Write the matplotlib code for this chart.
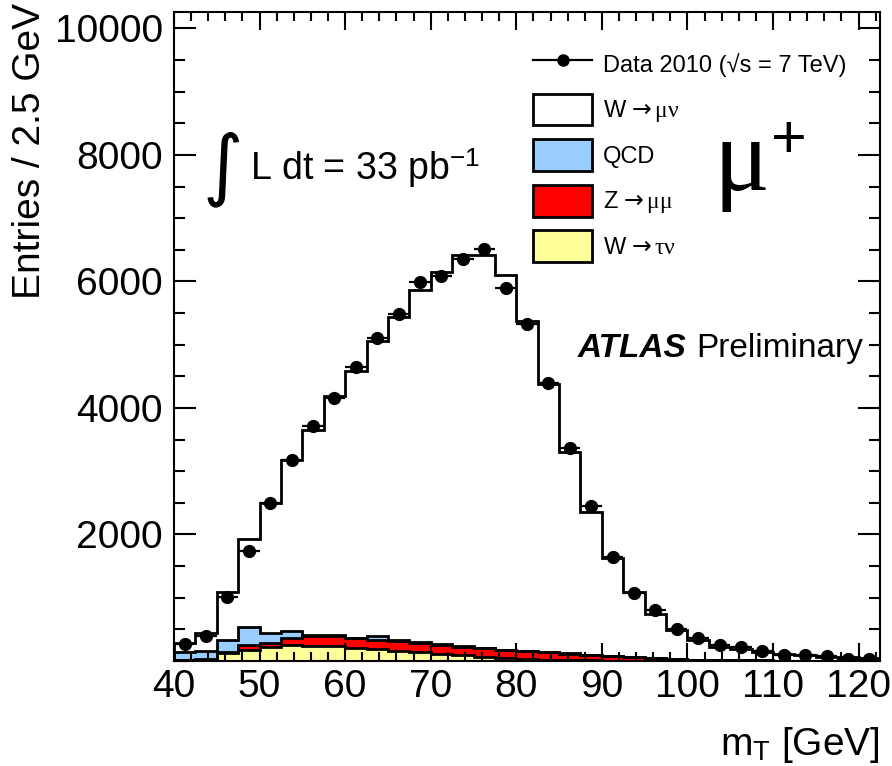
import numpy as np
import matplotlib
matplotlib.use('Agg')
import matplotlib.pyplot as plt
from matplotlib.lines import Line2D
from matplotlib.patches import Patch
from matplotlib.ticker import MultipleLocator

plt.rcParams['font.family'] = ['Liberation Sans', 'DejaVu Sans']
plt.rcParams['mathtext.fontset'] = 'custom'
plt.rcParams['mathtext.rm'] = 'Liberation Serif'
plt.rcParams['mathtext.sf'] = 'Liberation Sans'
plt.rcParams['mathtext.it'] = 'Liberation Serif:italic'
plt.rcParams['mathtext.tt'] = 'DejaVu Sans'

# m_T binning, 2.5 GeV bins from 40 to 122.5 GeV
edges = np.arange(40.0, 122.5 + 0.01, 2.5)

# observed events per bin
data = [270, 395, 1010, 1745, 2505, 3180, 3717, 4155, 4655, 5104, 5489,
        5985, 6080, 6360, 6517, 5895, 5325, 4392, 3370, 2457, 1650, 1081,
        807, 501, 359, 253, 217, 163, 100, 95, 79, 37, 37]

# expected contributions, stacked from bottom to top
w_taunu = [10, 15, 121, 174, 216, 253, 237, 237, 200, 185, 158, 147, 110,
           95, 68, 40, 25, 15, 10, 8, 5, 4, 3, 2, 1, 1, 1, 0, 0, 0, 0, 0, 0]
z_mumu = [10, 15, 19, 79, 63, 105, 163, 163, 158, 147, 162, 138, 150, 133,
          130, 128, 131, 125, 105, 87, 75, 60, 42, 28, 19, 14, 9, 8, 6, 5,
          4, 3, 2]
qcd = [130, 130, 195, 290, 169, 122, 11, 11, 11, 63, 12, 10, 9, 9, 8, 6, 7,
       7, 6, 5, 4, 4, 3, 2, 2, 1, 1, 1, 1, 0, 0, 0, 0]
w_munu = [130, 278, 761, 1387, 2057, 2700, 3243, 3786, 4223, 4667, 5104,
          5575, 5881, 6183, 6214, 5931, 5217, 4233, 3179, 2262, 1540, 1029,
          695, 458, 310, 201, 174, 139, 103, 85, 66, 57, 48]

samples = [
    (w_taunu, '#ffff99', r'W $\mathtt{→}\,\mathrm{\tau\nu}$'),
    (z_mumu, '#ff0000', r'Z $\mathtt{→}\,\mathrm{\mu\mu}$'),
    (qcd, '#99ccff', 'QCD'),
    (w_munu, '#ffffff', r'W $\mathtt{→}\,\mathrm{\mu\nu}$'),
]

W, H = 892, 766


def fpos(x, y):
    return x / W, 1 - y / H


fig = plt.figure(figsize=(W / 100, H / 100), dpi=100)
ax = fig.add_axes([174 / W, 1 - 661 / H, (880 - 174) / W, (661 - 12) / H])

# stacked histogram, drawn from the total down so lower layers sit on top
stack = np.cumsum([np.array(s[0], float) for s in samples], axis=0)
for i in range(len(samples) - 1, -1, -1):
    ax.stairs(stack[i], edges, baseline=0, fill=True,
              facecolor=samples[i][1], edgecolor='none', zorder=1)
    ax.stairs(stack[i], edges, baseline=0, color='k', lw=2.0, zorder=1.2)

centers = 0.5 * (edges[1:] + edges[:-1])
dat = np.array(data, float)
ax.errorbar(centers, dat, xerr=1.25, yerr=np.sqrt(dat), fmt='o', color='k',
            ms=8.5, elinewidth=1.6, capsize=0, zorder=3)

ax.set_xlim(40, 122.5)
ax.set_ylim(0, 10260)
ax.xaxis.set_major_locator(MultipleLocator(10))
ax.xaxis.set_minor_locator(MultipleLocator(2))
ax.set_yticks(np.arange(0, 10001, 2000))
ax.set_yticklabels([''] + [str(v) for v in range(2000, 10001, 2000)])
ax.yaxis.set_minor_locator(MultipleLocator(500))
ax.tick_params(axis='both', which='both', direction='in', top=True,
               right=True, width=1.5, labelsize=28)
ax.tick_params(axis='x', which='major', length=13, pad=6)
ax.tick_params(axis='x', which='minor', length=6.5)
ax.tick_params(axis='y', which='major', length=16, pad=8)
ax.tick_params(axis='y', which='minor', length=8)
for sp in ax.spines.values():
    sp.set_linewidth(1.5)

fig.text(*fpos(30, 3), 'Entries / 2.5 GeV', rotation=90, ha='center',
         va='top', fontsize=28)
fig.text(*fpos(880, 745), r'm$_\mathsf{T}$ [GeV]', ha='right',
         va='center', fontsize=28)

handles = [Line2D([], [], color='k', marker='o', ms=8, lw=1.6)]
labels = ['Data 2010 (√s = 7 TeV)']
for vals, col, lab in reversed(samples):
    handles.append(Patch(facecolor=col, edgecolor='k', lw=2))
    labels.append(lab)
fig.legend(handles, labels, loc='upper left', bbox_to_anchor=fpos(533, 48),
           frameon=False, fontsize=17, handlelength=2.5, handleheight=1.7,
           handletextpad=0.47, labelspacing=0.58, borderpad=0,
           borderaxespad=0)

fig.text(*fpos(203, 190), '∫', family='DejaVu Sans', fontsize=56,
         ha='left', va='baseline')
fig.text(*fpos(250, 180), r'L dt = 33 pb$^{\mathsf{-1}}$', fontsize=27,
         ha='left', va='baseline')

fig.text(*fpos(713, 190), 'μ', family='Liberation Serif', fontsize=75,
         ha='left', va='baseline')
fig.text(*fpos(789, 142), '+', fontsize=44, ha='center', va='center')

fig.text(*fpos(578, 357), 'ATLAS', fontsize=24, weight='bold',
         style='italic', ha='left', va='baseline')
fig.text(*fpos(696, 357), 'Preliminary', fontsize=24, ha='left',
         va='baseline')

fig.savefig('out.png', dpi=100)
